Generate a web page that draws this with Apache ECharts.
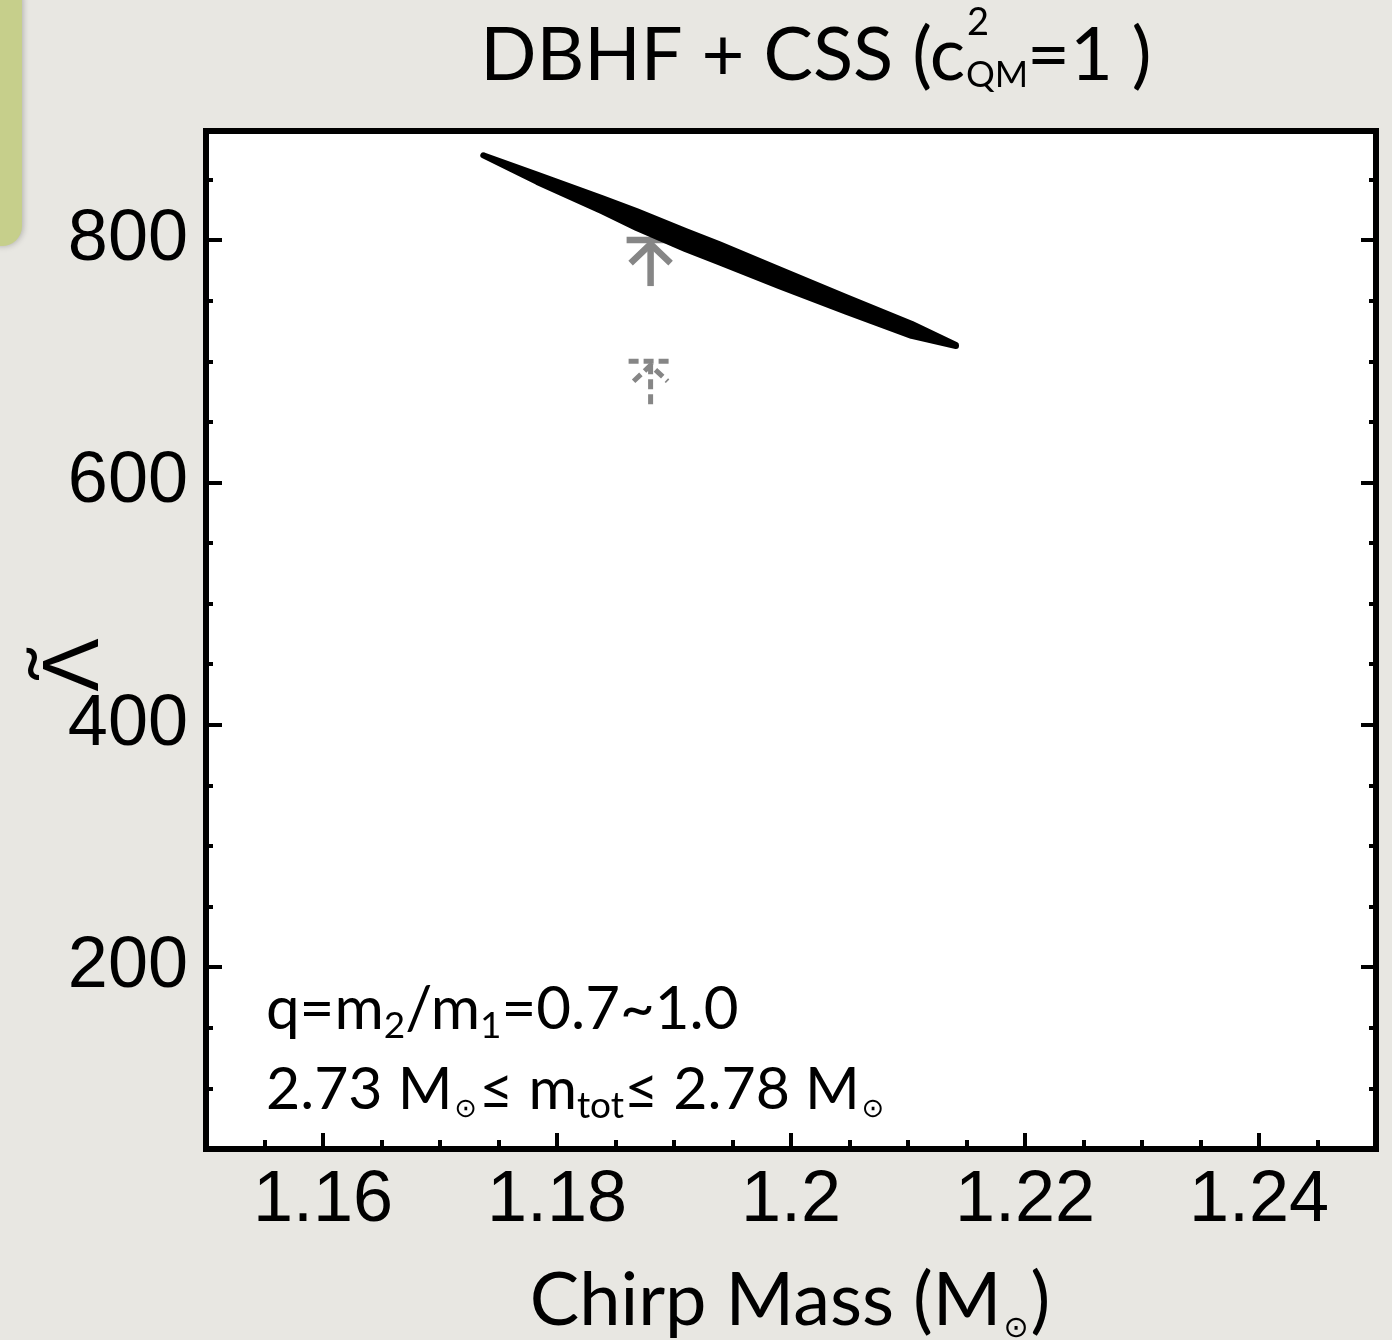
<!DOCTYPE html>
<html><head><meta charset="utf-8">
<script src="https://cdn.jsdelivr.net/npm/echarts@6/dist/echarts.min.js"></script>
<style>html,body{margin:0;padding:0;background:#e8e7e2}#c{width:1392px;height:1340px}</style>
</head><body><div id="c"></div>
<script>
// ---- data ----
const massTicks = [1.16, 1.18, 1.2, 1.22, 1.24];
const massMinorTicks = [1.155, 1.165, 1.17, 1.175, 1.185, 1.19, 1.195, 1.205, 1.21, 1.215, 1.225, 1.23, 1.235, 1.245];
const lambdaTicks = [200, 400, 600, 800];
const lambdaMinorTicks = [100, 150, 250, 300, 350, 450, 500, 550, 650, 700, 750, 850];
const bandMass  = [1.1737, 1.1783, 1.1839, 1.1868, 1.1910, 1.1939, 1.1990, 1.2047, 1.2103, 1.2141];
const bandUpper = [870, 854, 834.5, 824, 807.5, 796.5, 776, 753, 731, 713.5];
const bandLower = [870, 848, 823.5, 810, 792.5, 781.5, 762, 741, 721, 712.5];
const limitSolid  = [[1.188, 800]];
const limitDashed = [[1.188, 700]];

const chart = echarts.init(document.getElementById('c'), null, {renderer: 'canvas'});
const TXT = "Lato, 'Noto Sans', sans-serif";
const NUM = "'Liberation Sans', Arial, sans-serif";
const GRAY = '#868686';

function arrowItem(dashed) {
  return function (params, api) {
    const p = api.coord([api.value(0), api.value(1)]);
    const style = {stroke: GRAY, fill: null, lineWidth: dashed ? 5 : 6.5, lineDash: dashed ? [10, 5] : null};
    const bar = dashed ? [-22, 20] : [-24, 26];
    const arm = dashed ? [17, 20] : [20, 23];
    const len = dashed ? 46 : 46;
    return {type: 'group', children: [
      {type: 'line', shape: {x1: p[0] + bar[0], y1: p[1], x2: p[0] + bar[1], y2: p[1]}, style: style},
      {type: 'line', shape: {x1: p[0], y1: p[1] + 3, x2: p[0], y2: p[1] + len}, style: style},
      {type: 'polyline', shape: {points: [[p[0] - arm[0], p[1] + arm[1]], [p[0], p[1] + 4], [p[0] + arm[0], p[1] + arm[1]]]}, style: style}
    ]};
  };
}

const tickStyle = {color: '#000', width: 4};
const option = {
  animation: false,
  backgroundColor: '#e8e7e2',
  grid: {left: 206, right: 16, top: 131, bottom: 191, show: true, backgroundColor: '#fff', borderColor: '#000', borderWidth: 6},
  xAxis: [
    {type: 'value', min: 1.15, max: 1.25, position: 'bottom', axisLine: {show: false}, splitLine: {show: false},
     axisTick: {show: true, inside: true, length: 16, customValues: massTicks, lineStyle: tickStyle},
     axisLabel: {customValues: massTicks, margin: 16, fontSize: 72, fontFamily: NUM, color: '#000'}},
    {type: 'value', min: 1.15, max: 1.25, position: 'bottom', axisLine: {show: false}, splitLine: {show: false},
     axisTick: {show: true, inside: true, length: 9, customValues: massMinorTicks, lineStyle: tickStyle},
     axisLabel: {show: false}}
  ],
  yAxis: [
    {type: 'value', min: 50, max: 890, position: 'left', axisLine: {show: false}, splitLine: {show: false},
     axisTick: {show: true, inside: true, length: 16, customValues: lambdaTicks, lineStyle: tickStyle},
     axisLabel: {customValues: lambdaTicks, margin: 18, fontSize: 72, fontFamily: NUM, color: '#000'}},
    {type: 'value', min: 50, max: 890, position: 'left', axisLine: {show: false}, splitLine: {show: false},
     axisTick: {show: true, inside: true, length: 7, customValues: lambdaMinorTicks, lineStyle: tickStyle},
     axisLabel: {show: false}},
    {type: 'value', min: 50, max: 890, position: 'right', axisLine: {show: false}, splitLine: {show: false},
     axisTick: {show: true, inside: true, length: 15, customValues: lambdaTicks, lineStyle: tickStyle},
     axisLabel: {show: false}},
    {type: 'value', min: 50, max: 890, position: 'right', axisLine: {show: false}, splitLine: {show: false},
     axisTick: {show: true, inside: true, length: 7, customValues: lambdaMinorTicks, lineStyle: tickStyle},
     axisLabel: {show: false}}
  ],
  series: [
    {type: 'custom', name: 'limit', data: limitSolid, renderItem: arrowItem(false), z: 2},
    {type: 'custom', name: 'limit (dashed)', data: limitDashed, renderItem: arrowItem(true), z: 2},
    {type: 'custom', name: 'band', z: 3, data: [[bandMass[0], bandUpper[0]]],
     renderItem: function (params, api) {
       const pts = [];
       for (let i = 0; i < bandMass.length; i++) pts.push(api.coord([bandMass[i], bandUpper[i]]));
       for (let i = bandMass.length - 1; i >= 0; i--) pts.push(api.coord([bandMass[i], bandLower[i]]));
       return {type: 'polygon', shape: {points: pts}, style: {fill: '#000', stroke: '#000', lineWidth: 6, lineJoin: 'round'}};
     }}
  ],
  graphic: [
    {type: 'rect', shape: {x: -20, y: -20, width: 42, height: 266, r: 20}, style: {fill: '#c6cf8b', shadowBlur: 6, shadowColor: 'rgba(0,0,0,0.25)', shadowOffsetX: 1}},
    // title
    {type: 'text', x: 965, y: 56, style: {text: 'DBHF + CSS (c', font: '74px ' + TXT, fill: '#000', align: 'right', verticalAlign: 'middle'}},
    {type: 'text', x: 967, y: 23, style: {text: '2', font: '38px ' + TXT, fill: '#000', align: 'left', verticalAlign: 'middle'}},
    {type: 'text', x: 966, y: 75, style: {text: 'QM', font: '36px ' + TXT, fill: '#000', align: 'left', verticalAlign: 'middle'}},
    {type: 'text', x: 1027, y: 56, style: {text: '=1 )', font: '74px ' + TXT, fill: '#000', align: 'left', verticalAlign: 'middle'}},
    // annotations
    {type: 'text', x: 266, y: 1010, style: {
      text: '{a|q=m}{s|2}{a|/m}{s|1}{a|=0.7~1.0}', align: 'left', verticalAlign: 'middle',
      rich: {a: {fontSize: 60, fontFamily: TXT, color: '#000', verticalAlign: 'middle'},
             s: {fontSize: 37, fontFamily: TXT, color: '#000', verticalAlign: 'middle', padding: [33, 0, 0, 0]}}}},
    {type: 'text', x: 266, y: 1090, style: {
      text: '{a|2.73 M}{o|⊙}{a|≤ m}{s|tot}{a|≤ 2.78 M}{o|⊙}', align: 'left', verticalAlign: 'middle',
      rich: {a: {fontSize: 59, fontFamily: TXT, color: '#000', verticalAlign: 'middle'},
             s: {fontSize: 37, fontFamily: TXT, color: '#000', verticalAlign: 'middle', padding: [33, 0, 0, 0]},
             o: {fontSize: 27, fontFamily: "'DejaVu Sans', sans-serif", color: '#000', verticalAlign: 'middle', padding: [40, 2, 0, 2]}}}},
    // axis names
    {type: 'text', x: 790, y: 1301, style: {
      text: '{a|Chirp Mass (M}{o|⊙}{a|)}', align: 'center', verticalAlign: 'middle',
      rich: {a: {fontSize: 74, fontFamily: TXT, color: '#000', verticalAlign: 'middle'},
             o: {fontSize: 30, fontFamily: "'DejaVu Sans', sans-serif", color: '#000', verticalAlign: 'middle', padding: [56, 2, 0, 2]}}}},
    {type: 'text', x: 76, y: 665, rotation: Math.PI / 2, style: {text: 'Λ', font: '80px ' + NUM, fill: '#000', align: 'center', verticalAlign: 'middle'}},
    {type: 'text', x: 30, y: 664, rotation: Math.PI / 2, style: {text: '~', font: '70px ' + TXT, fill: '#000', align: 'center', verticalAlign: 'middle'}}
  ]
};
chart.setOption(option);
</script>
</body></html>
